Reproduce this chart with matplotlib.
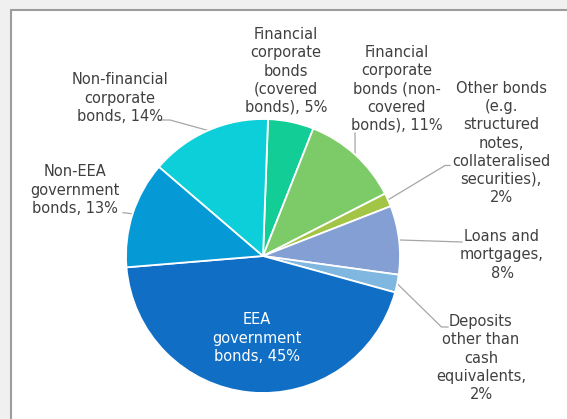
import numpy as np
import matplotlib
matplotlib.use("Agg")
from matplotlib import pyplot as plt
from matplotlib.patches import Rectangle

# slices, clockwise from the top
categories = ["Financial corporate bonds (covered bonds)",
              "Financial corporate bonds (non-covered bonds)",
              "Other bonds (e.g. structured notes, collateralised securities)",
              "Loans and mortgages",
              "Deposits other than cash equivalents",
              "EEA government bonds",
              "Non-EEA government bonds",
              "Non-financial corporate bonds"]
shares = [5.4, 11.5, 1.6, 8.1, 2.1, 44.4, 12.6, 14.3]
labels = ["Financial\ncorporate\nbonds\n(covered\nbonds), 5%",
          "Financial\ncorporate\nbonds (non-\ncovered\nbonds), 11%",
          "Other bonds\n(e.g.\nstructured\nnotes,\ncollateralised\nsecurities),\n2%",
          "Loans and\nmortgages,\n8%",
          "Deposits\nother than\ncash\nequivalents,\n2%",
          "EEA\ngovernment\nbonds, 45%",
          "Non-EEA\ngovernment\nbonds, 13%",
          "Non-financial\ncorporate\nbonds, 14%"]
colors = ["#13cd96", "#7ccb68", "#a2c545", "#849fd4",
          "#80b7e1", "#106ec5", "#059ad6", "#0ccfd9"]

W, H = 567, 419
def py(y):
    # picture pixel row -> axes y
    return H - y

# label block centres (pixel coords) and leader line path from the label side
label_pos = [(286, 71), (397, 89), (501, 143), (502, 255),
             (481, 358), (257, 338), (75, 190), (120, 98)]
leader = [None, [(355, 133)], [(450, 165.5), (445, 165.5)], [(462, 242)],
          [(448, 327), (441.5, 327)], None, [(123, 212.7)], [(159, 120), (170, 120)]]

fig = plt.figure(figsize=(W / 100, H / 100), dpi=100, facecolor="#f0f0f0")
ax = fig.add_axes([0, 0, 1, 1])
ax.set_facecolor("none")

# white panel with grey border at top / left
ax.add_patch(Rectangle((10.5, -50), W + 100, py(10.5) + 50, facecolor="white",
                       edgecolor="#9c9c9c", linewidth=1.5, zorder=0))

cx, cy, r = 263, py(256), 137
wedges, _ = ax.pie(shares, colors=colors, startangle=87.9, counterclock=False,
                   center=(cx, cy), radius=r, frame=True,
                   wedgeprops=dict(edgecolor="white", linewidth=1.3))

for i, w in enumerate(wedges):
    tx, ty = label_pos[i]
    col = "white" if categories[i] == "EEA government bonds" else "#404040"
    ax.text(tx, py(ty), labels[i], ha="center", va="center", color=col,
            fontsize=10.5, linespacing=1.27, family="DejaVu Sans")
    if leader[i] is None:
        continue
    mid = np.deg2rad((w.theta1 + w.theta2) / 2)
    xs = [cx + r * np.cos(mid)]
    ys = [cy + r * np.sin(mid)]
    for (lx, ly) in reversed(leader[i]):
        xs.append(lx)
        ys.append(py(ly))
    ax.plot(xs, ys, color="#a6a6a6", linewidth=0.9, zorder=0.5)

ax.set_xlim(0, W)
ax.set_ylim(0, H)
ax.set_aspect("auto")
ax.axis("off")

fig.savefig("out.png", dpi=100, facecolor=fig.get_facecolor())
